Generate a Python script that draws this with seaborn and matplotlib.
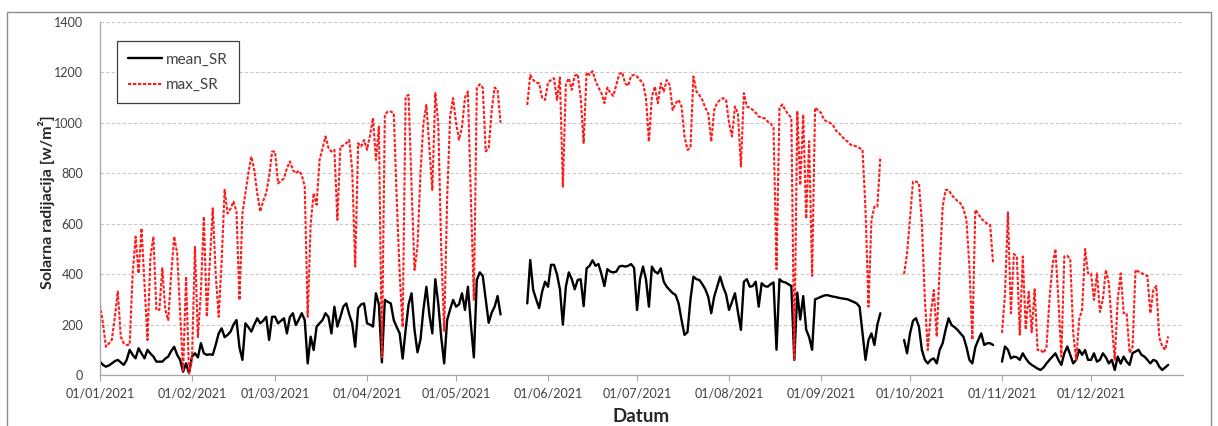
import numpy as np
import pandas as pd
import matplotlib
matplotlib.use("Agg")
import matplotlib.pyplot as plt
from matplotlib.lines import Line2D
from matplotlib.patches import Rectangle
import matplotlib.dates as mdates
import seaborn as sns

nan = np.nan

# Daily maximum solar radiation [W/m2], 2021 (nan = no measurement)
max_jan = [278, 205, 112, 125, 140, 230, 331, 152, 126, 119, 120, 400, 549, 403, 582, 360,
           139, 470, 549, 258, 258, 423, 258, 218, 400, 549, 483, 250, 13, 390, 7]
max_feb = [60, 508, 150, 330, 628, 231, 450, 661, 400, 231, 450, 734, 641, 660, 688, 648,
           297, 641, 720, 800, 866, 813, 720, 648, 690, 721, 787, 886]
max_mar = [886, 760, 770, 780, 820, 847, 813, 800, 810, 794, 747, 231, 600, 721, 675, 853,
           900, 946, 900, 886, 893, 615, 906, 910, 919, 932, 813, 430, 919, 906, 932]
max_apr = [893, 950, 1019, 853, 985, 70, 1032, 1045, 1045, 1038, 700, 400, 190, 1104, 1111,
           750, 417, 509, 800, 1000, 1071, 900, 734, 1118, 1000, 500, 175, 700, 1025, 1098]
max_may = [1000, 933, 985, 1100, 1124, 700, 298, 1138, 1153, 1140, 887, 900, 1050, 1140, 1130,
           1000, nan, nan, nan, nan, nan, nan, nan, nan, 1071, 1190, 1170, 1160, 1157, 1100, 1091]
max_jun = [1160, 1170, 1177, 1091, 1180, 747, 1153, 1177, 1131, 1187, 1193, 1100, 920, 1200,
           1190, 1205, 1167, 1140, 1118, 1078, 1140, 1118, 1107, 1150, 1193, 1200, 1157, 1147,
           1187, 1190]
max_jul = [1184, 1170, 1157, 1100, 926, 1104, 1144, 1078, 1157, 1124, 1170, 1150, 1051, 1078,
           1091, 1065, 946, 893, 900, 1184, 1124, 1110, 1091, 1060, 1038, 926, 1051, 1080, 1091,
           1098, 1091]
max_aug = [1000, 946, 1065, 1038, 827, 1118, 1065, 1060, 1051, 1040, 1025, 1020, 1018, 1005,
           999, 980, 420, 1060, 1073, 1050, 1033, 1020, 60, 1047, 753, 1033, 620, 927, 393,
           1060, 1050]
max_sep = [1040, 1012, 1005, 1000, 992, 970, 960, 946, 935, 925, 913, 910, 906, 900, 893, 655,
           271, 615, 668, 668, 866, nan, nan, nan, nan, nan, nan, nan, 400, 483]
max_oct = [620, 767, 767, 761, 600, 300, 99, 245, 337, 152, 430, 668, 734, 734, 715, 701, 690,
           681, 660, 615, 433, 140, 655, 640, 620, 610, 600, 595, 443, nan, nan]
max_nov = [167, 320, 645, 245, 480, 470, 160, 470, 180, 330, 170, 340, 99, 100, 87, 112, 300,
           433, 500, 300, 73, 470, 473, 460, 165, 60, 220, 260, 500, 403]
max_dec = [403, 298, 403, 250, 300, 417, 364, 200, 60, 300, 403, 245, 245, 87, 112, 417, 410,
           405, 397, 393, 245, 337, 353, 150, 113, 100, 153, nan, nan, nan, nan]

# Daily mean solar radiation [W/m2], 2021
mean_jan = [53, 40, 33, 38, 46, 55, 60, 50, 40, 60, 100, 80, 66, 106, 85, 66, 100, 85, 73, 53,
            53, 53, 65, 73, 95, 112, 80, 60, 13, 46, 7]
mean_feb = [73, 86, 70, 126, 86, 80, 82, 80, 120, 165, 185, 150, 159, 172, 200, 218, 110, 60,
            205, 190, 172, 200, 225, 205, 215, 231, 139, 231]
mean_mar = [231, 205, 215, 225, 165, 230, 245, 198, 220, 245, 218, 46, 152, 99, 192, 205, 218,
            245, 230, 165, 271, 192, 230, 271, 284, 240, 205, 112, 265, 280, 284]
mean_apr = [205, 200, 192, 324, 280, 50, 298, 290, 284, 218, 190, 165, 65, 179, 280, 324, 179,
            90, 140, 260, 350, 240, 165, 380, 284, 150, 46, 218, 260, 298]
mean_may = [271, 280, 324, 258, 350, 200, 70, 377, 407, 393, 300, 207, 247, 271, 313, 240,
            nan, nan, nan, nan, nan, nan, nan, nan, 284, 456, 337, 300, 265, 330, 370]
mean_jun = [350, 437, 437, 400, 340, 200, 350, 407, 380, 340, 377, 380, 273, 423, 433, 455,
            433, 440, 400, 353, 420, 410, 407, 410, 430, 433, 430, 433, 440, 425]
mean_jul = [258, 380, 430, 380, 271, 430, 410, 403, 423, 370, 350, 337, 325, 317, 284, 218,
            159, 170, 300, 390, 380, 377, 360, 340, 310, 245, 311, 350, 390, 350, 320]
mean_aug = [258, 290, 324, 250, 179, 370, 380, 350, 353, 370, 271, 364, 353, 350, 360, 367,
            100, 380, 370, 367, 360, 353, 60, 327, 220, 313, 180, 150, 100, 300, 305]
mean_sep = [310, 315, 317, 314, 311, 309, 306, 304, 302, 300, 295, 290, 284, 271, 165, 60, 139,
            165, 119, 200, 245, nan, nan, nan, nan, nan, nan, nan, 139, 86]
mean_oct = [165, 215, 225, 192, 99, 60, 46, 60, 66, 46, 100, 126, 180, 225, 198, 190, 179, 165,
            152, 112, 60, 46, 110, 139, 165, 119, 126, 126, 119, nan, nan]
mean_nov = [53, 113, 100, 66, 73, 70, 60, 86, 66, 50, 40, 33, 25, 20, 30, 46, 60, 73, 86, 60,
            40, 86, 113, 80, 46, 60, 100, 80, 99, 60]
mean_dec = [60, 86, 53, 60, 86, 70, 46, 60, 20, 73, 45, 73, 53, 40, 87, 93, 100, 80, 73, 60,
            46, 60, 55, 33, 20, 30, 40, nan, nan, nan, nan]

y_ticks = [0, 200, 400, 600, 800, 1000, 1200, 1400]
month_starts = pd.date_range("2021-01-01", "2021-12-01", freq="MS")

dates = pd.date_range("2021-01-01", "2021-12-31", freq="D")
max_sr = np.array(max_jan + max_feb + max_mar + max_apr + max_may + max_jun + max_jul
                  + max_aug + max_sep + max_oct + max_nov + max_dec, dtype=float)
mean_sr = np.array(mean_jan + mean_feb + mean_mar + mean_apr + mean_may + mean_jun + mean_jul
                   + mean_aug + mean_sep + mean_oct + mean_nov + mean_dec, dtype=float)

sns.set_theme(style="white")
plt.rcParams["font.family"] = ["Lato", "DejaVu Sans"]

W, H = 1218, 426
fig = plt.figure(figsize=(W / 100, H / 100), dpi=100)
fig.patch.set_facecolor("white")
ax = fig.add_axes([100 / W, 1 - 375 / H, 1083 / W, 353 / H])


def draw_series(values, **style):
    """Plot one daily series; missing days split the line into separate runs."""
    df = pd.DataFrame({"date": dates, "value": values})
    df["run"] = df["value"].isna().cumsum()
    df = df.dropna()
    sns.lineplot(data=df, x="date", y="value", units="run", estimator=None,
                 ax=ax, legend=False, **style)


mean_style = dict(color="black", linewidth=1.7, linestyle="-")
max_style = dict(color="#ff1a1a", linewidth=1.5, linestyle=(0, (1.6, 0.8)))

draw_series(mean_sr, **mean_style)
draw_series(max_sr, **max_style)

ax.set_xlim(pd.Timestamp("2021-01-01"), pd.Timestamp("2022-01-01"))
ax.set_ylim(0, 1400)
ax.set_yticks(y_ticks)
ax.set_xticks(month_starts)
ax.xaxis.set_major_formatter(mdates.DateFormatter("%d/%m/%Y"))
ax.set_xlabel("")
ax.set_ylabel("")

ax.yaxis.grid(True, linestyle=(0, (3, 2)), color="#c8c8c8", linewidth=0.8)
ax.xaxis.grid(False)
ax.set_axisbelow(True)
for side in ("top", "right"):
    ax.spines[side].set_visible(False)
for side in ("left", "bottom"):
    ax.spines[side].set_color("#a6a6a6")
    ax.spines[side].set_linewidth(0.9)

ax.tick_params(axis="x", which="major", length=4, width=0.8, color="#a6a6a6",
               labelsize=9, labelcolor="#404040", pad=5, bottom=True)
ax.tick_params(axis="y", which="major", length=0, labelsize=9, labelcolor="#404040", pad=12)

fig.text(47 / W, 1 - 202 / H, "Solarna radijacija [w/m²]", rotation=90, ha="center",
         va="center", fontsize=11.5, fontweight="bold", color="#262626")
fig.text(641 / W, 1 - 417 / H, "Datum", ha="center", va="center", fontsize=13.5,
         fontweight="bold", color="#262626")

handles = [Line2D([], [], **mean_style), Line2D([], [], **max_style)]
leg = ax.legend(handles, ["mean_SR", "max_SR"], loc="upper left",
                bbox_to_anchor=((117 - 100) / 1083, (375 - 41) / 353), borderaxespad=0,
                frameon=True, fancybox=False, framealpha=1, edgecolor="#404040",
                fontsize=11, handlelength=2.2, handletextpad=0.25, labelspacing=0.75,
                borderpad=0.75)
leg.get_frame().set_linewidth(0.9)
for t in leg.get_texts():
    t.set_color("#404040")

fig.patches.append(Rectangle((7 / W, -0.1), (1211 - 7) / W, 1.1 - 12 / H,
                             transform=fig.transFigure, fill=False,
                             edgecolor="#8c8c8c", linewidth=1.0))

fig.savefig("out.png", dpi=100, facecolor="white")
